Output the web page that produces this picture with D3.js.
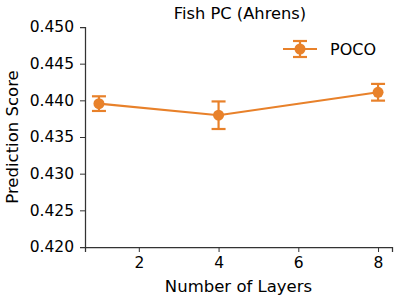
<!DOCTYPE html>
<html>
<head>
<meta charset="utf-8">
<script src="https://cdn.jsdelivr.net/npm/d3@7"></script>
<style>
  body { margin: 0; background: #fff; }
  svg { font-family: "DejaVu Sans", sans-serif; }
</style>
</head>
<body>
<svg id="chart" width="399" height="299"></svg>
<script>
// data
const layers = [1, 4, 8];
const scores = [0.43955, 0.43797, 0.44110];
const errors = [0.00100, 0.00188, 0.00114];
const yTicks = [0.420, 0.425, 0.430, 0.435, 0.440, 0.445, 0.450];
const xTicks = [2, 4, 6, 8];
const seriesName = 'POCO';

const color = '#e8812a';
const plotLeft = 85, plotRight = 392, plotTop = 27, plotBottom = 247;

const svg = d3.select('#chart');

const x = d3.scaleLinear().domain([0.65, 8.35]).range([plotLeft, plotRight]);
const y = d3.scaleLinear().domain([0.420, 0.450]).range([plotBottom, plotTop]);

// axes
const xAxis = svg.append('g')
    .attr('transform', `translate(0,${plotBottom})`)
    .call(d3.axisBottom(x).tickValues(xTicks).tickSize(5).tickPadding(5).tickFormat(d3.format('d')));
const yAxis = svg.append('g')
    .attr('transform', `translate(${plotLeft},0)`)
    .call(d3.axisLeft(y).tickValues(yTicks).tickSize(5).tickPadding(6).tickFormat(d3.format('.3f')));

[xAxis, yAxis].forEach(a => {
    a.select('.domain').attr('stroke', '#333').attr('stroke-width', 1.25);
    a.selectAll('.tick line').attr('stroke', '#333').attr('stroke-width', 1);
    a.selectAll('.tick text')
        .attr('fill', '#000')
        .style('font-size', '15.5px')
        .style('font-family', '"DejaVu Sans", sans-serif');
});

// labels
svg.append('text')
    .attr('x', 240).attr('y', 19)
    .attr('text-anchor', 'middle')
    .style('font-size', '16.3px')
    .text('Fish PC (Ahrens)');
svg.append('text')
    .attr('x', (plotLeft + plotRight) / 2).attr('y', 292)
    .attr('text-anchor', 'middle')
    .style('font-size', '16.5px')
    .text('Number of Layers');
svg.append('text')
    .attr('transform', `translate(18,${(plotTop + plotBottom) / 2}) rotate(-90)`)
    .attr('text-anchor', 'middle')
    .style('font-size', '16.5px')
    .text('Prediction Score');

// series
const pts = layers.map((l, i) => ({l, s: scores[i], e: errors[i]}));
const line = d3.line().x(d => x(d.l)).y(d => y(d.s));

svg.append('path')
    .datum(pts)
    .attr('d', line)
    .attr('fill', 'none')
    .attr('stroke', color)
    .attr('stroke-width', 2.2);

const eg = svg.append('g').selectAll('g').data(pts).join('g');
eg.append('line')
    .attr('x1', d => x(d.l)).attr('x2', d => x(d.l))
    .attr('y1', d => y(d.s - d.e)).attr('y2', d => y(d.s + d.e))
    .attr('stroke', color).attr('stroke-width', 2.2);
eg.selectAll('line.cap').data(d => [[d.l, d.s - d.e], [d.l, d.s + d.e]])
    .join('line').attr('class', 'cap')
    .attr('x1', d => x(d[0]) - 7).attr('x2', d => x(d[0]) + 7)
    .attr('y1', d => y(d[1])).attr('y2', d => y(d[1]))
    .attr('stroke', color).attr('stroke-width', 2.2);
eg.append('circle')
    .attr('cx', d => x(d.l)).attr('cy', d => y(d.s))
    .attr('r', 5.5)
    .attr('fill', color);

// legend
const lg = svg.append('g').attr('transform', 'translate(300,49)');
lg.append('line').attr('x1', -17).attr('x2', 17).attr('y1', 0).attr('y2', 0)
    .attr('stroke', color).attr('stroke-width', 2.2);
lg.append('line').attr('x1', 0).attr('x2', 0).attr('y1', -8).attr('y2', 8)
    .attr('stroke', color).attr('stroke-width', 2.2);
[-8, 8].forEach(dy => lg.append('line')
    .attr('x1', -7).attr('x2', 7).attr('y1', dy).attr('y2', dy)
    .attr('stroke', color).attr('stroke-width', 2.2));
lg.append('circle').attr('r', 5.5).attr('fill', color);
lg.append('text').attr('x', 30).attr('y', 6)
    .style('font-size', '16px')
    .text(seriesName);
</script>
</body>
</html>
